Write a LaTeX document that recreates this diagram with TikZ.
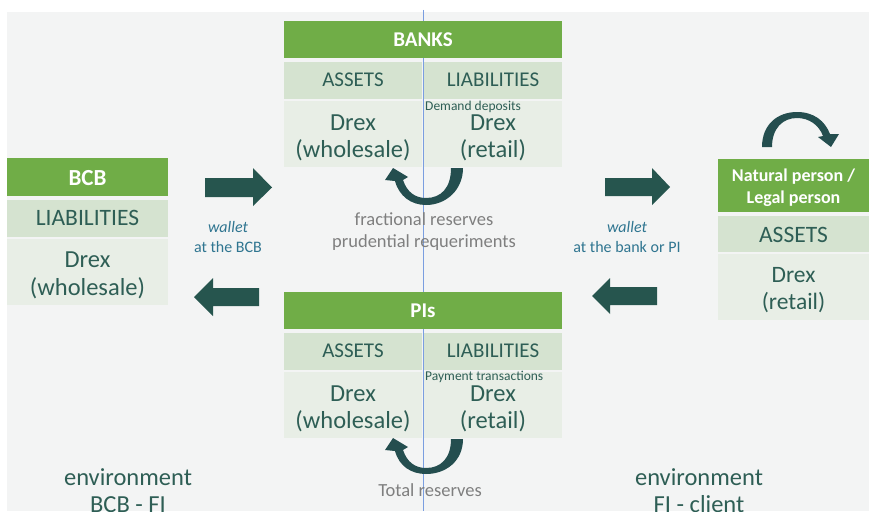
\documentclass[tikz,border=0pt]{standalone}
\usepackage{fontspec}
\setmainfont{Carlito}
\definecolor{hdr}{HTML}{70AD47}
\definecolor{rowA}{HTML}{D5E3D0}
\definecolor{rowB}{HTML}{E8EEE6}
\definecolor{txt}{HTML}{2E5E55}
\definecolor{arr}{HTML}{26554E}
\definecolor{curv}{HTML}{244E4F}
\definecolor{wal}{HTML}{2F7590}
\definecolor{gr}{HTML}{7F7F7F}
\definecolor{bg}{HTML}{F3F4F4}
\definecolor{vline}{HTML}{7A9EE0}
\begin{document}
\begin{tikzpicture}[x=1pt,y=-1pt,
  cell/.style={inner sep=0pt, outer sep=0pt, draw=none},
  hcell/.style={cell, fill=hdr},
  acell/.style={cell, fill=rowA},
  vcell/.style={cell, fill=rowB},
  tx/.style={inner sep=0pt, anchor=base, text=txt},
  htx/.style={inner sep=0pt, anchor=base, text=white, font=\bfseries\fontsize{21}{25}\selectfont},
  atx/.style={tx, font=\fontsize{21}{25}\selectfont},
  vtx/.style={tx, font=\fontsize{24.5}{28}\selectfont},
  smalltx/.style={tx, font=\fontsize{13.5}{16}\selectfont},
  waltx/.style={inner sep=0pt, anchor=base, text=wal, font=\fontsize{16}{19}\selectfont},
  grtx/.style={inner sep=0pt, anchor=base, text=gr, font=\fontsize{18.5}{22}\selectfont},
  envtx/.style={tx, font=\fontsize{24.5}{28}\selectfont},
  blockarrow/.style={fill=arr},
  curvedarrow/.style={fill=curv}
]
\useasboundingbox (0,0) rectangle (869,511);
\fill[white] (0,0) rectangle (869,511);
\fill[bg] (7,12) rectangle (869,511);

% vertical guide line
\coordinate (vtop) at (423.5,10);
\coordinate (vbot) at (423.5,511);
\draw[vline, line width=0.9pt] (vtop) -- (vbot);

% ---------- BANKS ----------
\node[hcell, minimum width=278, minimum height=37] (bk) at (423,39.5) {};
\node[acell, minimum width=138, minimum height=37] (bkA) at (353,80.5) {};
\node[acell, minimum width=138, minimum height=37] (bkL) at (493,80.5) {};
\node[vcell, minimum width=138, minimum height=66] (bkAv) at (353,134) {};
\node[vcell, minimum width=138, minimum height=66] (bkLv) at (493,134) {};
\node[htx] (bkt) at (423,46) {BANKS};
\node[atx] (bkAt) at (353,86) {ASSETS};
\node[atx] (bkLt) at (493,86) {LIABILITIES};
\node[vtx] (bkAv1) at (353,130) {Drex};
\node[vtx] (bkAv2) at (353,157) {(wholesale)};
\node[vtx] (bkLv1) at (493,130) {Drex};
\node[vtx] (bkLv2) at (493,157) {(retail)};
\node[smalltx, anchor=base west] (bkdd) at (425,110) {Demand deposits};

% ---------- PIs ----------
\node[hcell, minimum width=278, minimum height=37] (pi) at (423,310.5) {};
\node[acell, minimum width=138, minimum height=37] (piA) at (353,351.5) {};
\node[acell, minimum width=138, minimum height=37] (piL) at (493,351.5) {};
\node[vcell, minimum width=138, minimum height=66] (piAv) at (353,405) {};
\node[vcell, minimum width=138, minimum height=66] (piLv) at (493,405) {};
\node[htx] (pit) at (423,317) {PIs};
\node[atx] (piAt) at (353,357) {ASSETS};
\node[atx] (piLt) at (493,357) {LIABILITIES};
\node[vtx] (piAv1) at (353,401) {Drex};
\node[vtx] (piAv2) at (353,428) {(wholesale)};
\node[vtx] (piLv1) at (493,401) {Drex};
\node[vtx] (piLv2) at (493,428) {(retail)};
\node[smalltx, anchor=base west] (pipt) at (425,380) {Payment transactions};

% ---------- BCB ----------
\node[hcell, minimum width=161, minimum height=38] (bcb) at (87.5,177) {};
\node[acell, minimum width=161, minimum height=37] (bcbL) at (87.5,218.5) {};
\node[vcell, minimum width=161, minimum height=66] (bcbLv) at (87.5,272) {};
\node[htx, font=\bfseries\fontsize{23}{27}\selectfont] (bcbt) at (87.5,185) {BCB};
\node[atx, font=\fontsize{23.5}{27}\selectfont] (bcbLt) at (87.5,225) {LIABILITIES};
\node[vtx] (bcbv1) at (87.5,267) {Drex};
\node[vtx] (bcbv2) at (87.5,295) {(wholesale)};

% ---------- Natural person ----------
\node[hcell, minimum width=151, minimum height=53] (np) at (793.5,185.5) {};
\node[acell, minimum width=151, minimum height=36] (npA) at (793.5,234) {};
\node[vcell, minimum width=151, minimum height=66] (npAv) at (793.5,287) {};
\node[htx, font=\bfseries\fontsize{18}{22}\selectfont] (npt1) at (793.5,181) {Natural person /};
\node[htx, font=\bfseries\fontsize{18}{22}\selectfont] (npt2) at (793.5,203) {Legal person};
\node[atx, font=\fontsize{23.5}{27}\selectfont] (npAt) at (793.5,242) {ASSETS};
\node[vtx, font=\fontsize{23.5}{27}\selectfont] (npv1) at (793.5,282) {Drex};
\node[vtx, font=\fontsize{23.5}{27}\selectfont] (npv2) at (793.5,309) {(retail)};

% ---------- block arrows ----------
\fill[blockarrow] (205,178) -- (253,178) -- (253,168) -- (272,187.5) -- (253,206) -- (253,197) -- (205,197) -- cycle;
\fill[blockarrow] (259,288) -- (213,288) -- (213,278) -- (194,297) -- (213,316) -- (213,306) -- (259,306) -- cycle;
\fill[blockarrow] (605,178) -- (652,178) -- (652,168) -- (670,187) -- (652,205) -- (652,196) -- (605,196) -- cycle;
\fill[blockarrow] (657,287) -- (610,287) -- (610,278) -- (592,296) -- (610,314) -- (610,305) -- (657,305) -- cycle;

% ---------- wallet labels ----------
\node[waltx] (w1a) at (228,232) {\itshape wallet};
\node[waltx] (w1b) at (228,252) {at the BCB};
\node[waltx] (w2a) at (627,232) {\itshape wallet};
\node[waltx] (w2b) at (627,252) {at the bank or PI};

% ---------- curved arrows ----------
\fill[curvedarrow] (463,168) .. controls (463,190) and (446,205) .. (426,205)
  .. controls (411,205) and (399,196) .. (395,181) -- (385,180) -- (393,168) -- (408,177) -- (403,180)
  .. controls (407,192) and (415,198) .. (426,198)
  .. controls (441,198) and (451,188) .. (451,168) -- cycle;
\fill[curvedarrow] (463,439) .. controls (463,461) and (446,474) .. (426,474)
  .. controls (411,474) and (399,466) .. (395,451) -- (385,450) -- (393,438) -- (408,447) -- (403,450)
  .. controls (407,462) and (415,468) .. (426,468)
  .. controls (441,468) and (451,458) .. (451,439) -- cycle;
\fill[curvedarrow] (762,147) .. controls (762,124) and (778,112) .. (797,112)
  .. controls (814,112) and (825,121) .. (830,134) -- (839,134) -- (831,147) -- (818,137) -- (823,136)
  .. controls (819,125) and (809,118) .. (797,118)
  .. controls (783,118) and (772,128) .. (772,147) -- cycle;

% ---------- grey labels ----------
\node[grtx] (fr1) at (424,225) {fractional reserves};
\node[grtx] (fr2) at (424,247) {prudential requeriments};
\node[grtx] (tr) at (430,496) {Total reserves};

% ---------- environment labels (cut by the lower edge, as in the reference) ----------
\node[envtx] (env1a) at (128,485) {environment};
\node[envtx] (env1b) at (128,512) {BCB - FI};
\node[envtx] (env2a) at (699,485) {environment};
\node[envtx] (env2b) at (699,512) {FI - client};
\end{tikzpicture}
\end{document}
